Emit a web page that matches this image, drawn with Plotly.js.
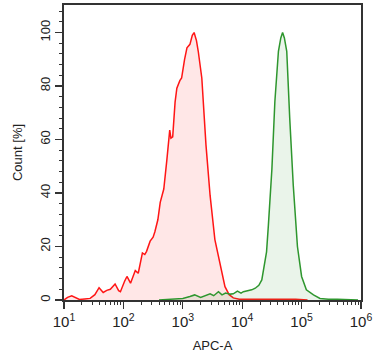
<!DOCTYPE html>
<html>
<head>
<meta charset="utf-8">
<script src="https://cdn.plot.ly/plotly-3.0.1.min.js"></script>
<style>html,body{margin:0;padding:0;background:#fff;}#chart{width:382px;height:364px;}</style>
</head>
<body>
<div id="chart"></div>
<script>
// Red histogram: log10(APC-A) positions and count [%]
const redLogX = [1.00,1.06,1.13,1.20,1.26,1.35,1.44,1.52,1.59,1.66,1.72,1.78,1.86,1.92,1.95,2.02,2.06,2.12,2.17,2.20,2.25,2.32,2.36,2.39,2.45,2.50,2.53,2.58,2.62,2.68,2.73,2.76,2.78,2.80,2.83,2.87,2.90,2.95,2.98,3.03,3.07,3.12,3.16,3.19,3.23,3.26,3.32,3.39,3.46,3.54,3.63,3.71,3.78,3.85,3.95,4.10,4.30,4.50,4.70,4.90,5.10];
const redY = [0.0,1.0,1.6,0.8,0.2,0.4,0.6,2.0,4.6,2.8,3.6,4.0,6.0,3.5,3.1,7.0,8.8,6.3,9.5,11.0,10.0,17.6,17.0,18.2,22.0,23.5,25.5,30.0,36.5,41.5,52.0,59.0,63.5,60.5,61.0,74.0,79.2,82.0,83.0,90.0,94.3,95.6,99.0,100.0,97.0,93.0,83.0,58.0,39.0,22.6,12.6,5.0,2.0,0.8,0.3,0.3,0.2,0.3,0.2,0.3,0.0];
// Green histogram
const greenLogX = [2.60,2.80,3.00,3.12,3.20,3.30,3.40,3.46,3.52,3.60,3.66,3.72,3.80,3.85,3.92,3.98,4.02,4.10,4.16,4.22,4.28,4.33,4.37,4.41,4.44,4.47,4.50,4.55,4.61,4.65,4.68,4.71,4.75,4.80,4.86,4.93,5.00,5.08,5.20,5.31,5.45,5.60,5.75,5.87,5.95];
const greenY = [0.0,0.3,0.6,1.3,1.9,1.0,1.8,2.3,1.6,3.1,1.9,2.6,2.2,2.3,3.3,2.6,3.1,3.5,3.8,4.4,5.5,7.5,12.6,18.0,27.7,38.0,49.0,74.2,93.0,98.0,100.0,98.0,93.0,68.0,42.8,20.0,8.8,3.8,1.9,0.6,0.3,0.3,0.2,0.3,0.0];
// Axis ticks
const xTickVals = [10,100,1000,10000,100000,1000000];
const xTickText = ['10<sup>1</sup>','10<sup>2</sup>','10<sup>3</sup>','10<sup>4</sup>','10<sup>5</sup>','10<sup>6</sup>'];
const yTickVals = [0,20,40,60,80,100];

const toX = a => a.map(v => Math.pow(10, v));

const traces = [
  {x: toX(redLogX), y: redY, type:'scatter', mode:'lines', fill:'tozeroy',
   line:{color:'#ff1515', width:1.5}, fillcolor:'rgba(255,40,40,0.11)', hoverinfo:'skip'},
  {x: toX(greenLogX), y: greenY, type:'scatter', mode:'lines', fill:'tozeroy',
   line:{color:'#2e962e', width:1.5}, fillcolor:'rgba(46,150,46,0.10)', hoverinfo:'skip'}
];

const layout = {
  width:382, height:364,
  margin:{l:64, r:21, t:5, b:64},
  paper_bgcolor:'#fff', plot_bgcolor:'#fff',
  showlegend:false,
  font:{family:'Liberation Sans, Arial, sans-serif', color:'#222'},
  xaxis:{type:'log', range:[1,6], tickvals:xTickVals, ticktext:xTickText,
    ticks:'outside', ticklen:7, tickwidth:1.2, tickcolor:'#333',
    minor:{ticks:'outside', ticklen:3, tickwidth:1, tickcolor:'#333', dtick:'D1', showgrid:false},
    showline:true, linecolor:'#333', linewidth:1.8, mirror:true,
    showgrid:false, zeroline:false, tickfont:{size:15, color:'#222'},
    title:{text:'APC-A', font:{size:13, color:'#222'}, standoff:12}},
  yaxis:{range:[0,110.3], tickvals:yTickVals, tickangle:-90,
    ticks:'outside', ticklen:7, tickwidth:1.2, tickcolor:'#333',
    minor:{ticks:'outside', ticklen:3.5, tickwidth:1, tickcolor:'#333', dtick:4, showgrid:false},
    showline:true, linecolor:'#333', linewidth:1.8, mirror:true,
    showgrid:false, zeroline:false, tickfont:{size:13, color:'#222'},
    title:{text:'Count [%]', font:{size:13, color:'#222'}, standoff:12}}
};

Plotly.newPlot('chart', traces, layout, {displayModeBar:false, staticPlot:true});
</script>
</body>
</html>
